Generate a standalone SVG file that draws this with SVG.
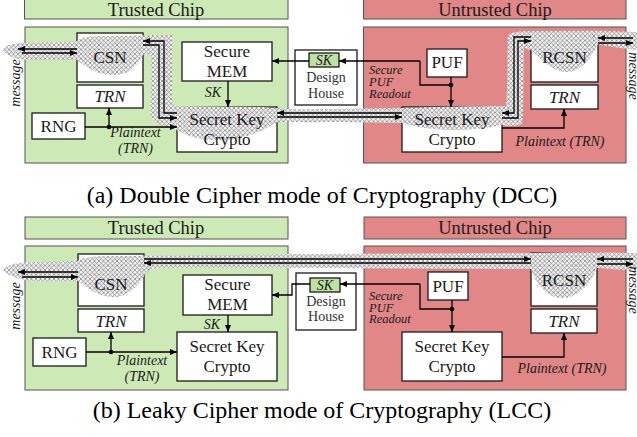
<svg xmlns="http://www.w3.org/2000/svg" width="637" height="437" viewBox="0 0 637 437">
<style>
text{font-family:"Liberation Serif","Times New Roman",serif;fill:#1a1a1a}
.lbl{font-size:17px;text-anchor:middle}
.hdr{font-size:18.5px;text-anchor:middle}
.it{font-size:12.5px;font-style:italic}
.itm{font-size:14px;font-style:italic;text-anchor:middle}
.cap{font-size:24px;text-anchor:middle;fill:#000}
.box{fill:#fff;stroke:#1a1a1a;stroke-width:1.3}
.green{fill:#cde9b6;stroke:#555;stroke-width:1}
.red{fill:#e18787;stroke:#555;stroke-width:1}
.skbox{fill:#bfe0a3;stroke:#1a1a1a;stroke-width:1.3}
.hatch{fill:url(#hatch);stroke:none}
.ln{fill:none;stroke:#000;stroke-width:1.3}
.arr{fill:none;stroke:#000;stroke-width:1.3;marker-end:url(#ah)}
.dh{font-size:14px;text-anchor:middle;fill:#333}
</style>
<defs>
<pattern id="hatch" width="4.5" height="4.5" patternUnits="userSpaceOnUse">
<rect width="4.5" height="4.5" fill="#f2f2f2"/>
<path d="M0,0 L4.5,4.5 M4.5,0 L0,4.5" stroke="#6a6a6a" stroke-width="0.6"/>
</pattern>
<marker id="ah" markerWidth="7" markerHeight="6" refX="7" refY="3" orient="auto" markerUnits="userSpaceOnUse">
<path d="M0,0 L7,3 L0,6 Z" fill="#000"/>
</marker>
</defs>
<rect width="637" height="437" fill="#fff"/>

<!-- ===== (a) DCC ===== -->
<g id="a-trusted-chip">
<rect class="green" x="24.5" y="-5" width="263.5" height="24"/>
<text class="hdr" x="156" y="16">Trusted Chip</text>
<rect class="green" x="25" y="27" width="263" height="136"/>
</g>
<g id="a-untrusted-chip">
<rect class="red" x="363.5" y="-5" width="262.5" height="24"/>
<text class="hdr" x="495" y="16">Untrusted Chip</text>
<rect class="red" x="363.5" y="27" width="262.5" height="136"/>
</g>

<g id="a-nodes-boxes">
<rect class="box" x="77" y="33" width="66" height="49"/>
<rect class="box" x="177" y="107" width="100" height="45"/>
<rect class="box" x="402" y="107" width="100" height="45"/>
<rect class="box" x="531" y="32" width="67" height="50"/>
</g>

<path class="hatch" d="M3,50 C6,45 12,43 25,43 L77,41 C80,37 90,36 110,36 L172,35 C173,50 172,80 172,100 C173,104 176,106 180,106 L260,107 C275,108 290,110 320,109 L402,108 C430,107 480,106 506,106 C508,90 507,50 508,35 C512,32 520,31 531,31 C560,31 600,30 637,32 L637,50 C620,48 605,46 598,44 C590,60 580,72 567,72 C552,72 540,58 531,50 L524,48 C523,80 524,110 522,124 C515,127 505,126 502,125 C490,128 470,130 450,130 C430,130 412,126 402,123 L330,122 C310,123 290,122 277,122 C265,130 250,138 220,140 C200,141 185,135 177,130 C160,126 150,122 150,112 C151,90 152,70 151,55 C148,54 145,54 143,55 C135,70 125,76 110,75 C95,74 85,66 77,60 L30,60 C15,60 6,56 3,50 Z"/>

<g id="a-csn"><text class="lbl" x="110" y="63">CSN</text></g>
<g id="a-trn"><rect class="box" x="77" y="85" width="66" height="23"/><text class="lbl" x="110" y="102" font-style="italic">TRN</text></g>
<g id="a-rng"><rect class="box" x="32" y="113" width="53" height="26"/><text class="lbl" x="58.5" y="132">RNG</text></g>
<g id="a-secure-mem"><rect class="box" x="182" y="42" width="90" height="39"/><text class="lbl" x="227" y="57">Secure</text><text class="lbl" x="227" y="77">MEM</text></g>
<g id="a-skc-trusted"><text class="lbl" x="227" y="125">Secret Key</text><text class="lbl" x="227" y="145">Crypto</text></g>
<g id="a-design-house"><rect class="box" x="295" y="50" width="62" height="55"/><rect class="skbox" x="309" y="53" width="30" height="14"/><text class="itm" x="324" y="65">SK</text><text class="dh" x="326" y="82">Design</text><text class="dh" x="326" y="98">House</text></g>
<g id="a-puf"><rect class="box" x="427" y="49" width="40" height="28"/><text class="lbl" x="447" y="68">PUF</text></g>
<g id="a-skc-untrusted"><text class="lbl" x="452" y="125">Secret Key</text><text class="lbl" x="452" y="145">Crypto</text></g>
<g id="a-rcsn"><text class="lbl" x="564.5" y="63">RCSN</text></g>
<g id="a-trn-u"><rect class="box" x="531" y="85" width="67" height="24"/><text class="lbl" x="564.5" y="103" font-style="italic">TRN</text></g>

<g id="a-connectors">
<path class="arr" d="M77,49 H18"/>
<path class="arr" d="M22,53 H77"/>
<path class="arr" d="M177,113 H164 V41 H143"/>
<path class="arr" d="M143,45 H159 V118 H177"/>
<path class="arr" d="M402,113 H277"/>
<path class="arr" d="M277,117 H402"/>
<path class="arr" d="M531,37 H514 V113 H502"/>
<path class="arr" d="M502,118 H518 V41 H531"/>
<path class="arr" d="M633,38 H598"/>
<path class="arr" d="M598,43 H633"/>
<path class="arr" d="M85,127 H177"/>
<path class="arr" d="M109,127 V108"/>
<circle cx="109" cy="127" r="2.3"/>
<path class="arr" d="M228,81 V107"/>
<path class="arr" d="M309,61 H272"/>
<path class="arr" d="M420,61 H339"/>
<path class="ln" d="M420,61 V85 H451"/>
<circle cx="451" cy="85" r="2.3"/>
<path class="arr" d="M451,77 V107"/>
<path class="arr" d="M502,128 H564 V109"/>
</g>
<g id="a-labels">
<text class="itm" x="135.5" y="137">Plaintext</text>
<text class="itm" x="135.5" y="153">(TRN)</text>
<text class="itm" x="213" y="97">SK</text>
<text class="it" x="369" y="74">Secure</text>
<text class="it" x="369" y="86">PUF</text>
<text class="it" x="369" y="98">Readout</text>
<text class="itm" x="560" y="146">Plaintext (TRN)</text>
<text class="itm" transform="translate(20,83) rotate(-90)">message</text>
<text class="itm" transform="translate(629,76) rotate(90)">message</text>
</g>
<text class="cap" x="322" y="203">(a) Double Cipher mode of Cryptography (DCC)</text>

<!-- ===== (b) LCC ===== -->
<g id="b-trusted-chip">
<rect class="green" x="25" y="217" width="263" height="22"/>
<text class="hdr" x="156" y="234">Trusted Chip</text>
<rect class="green" x="25" y="246" width="263" height="144"/>
</g>
<g id="b-untrusted-chip">
<rect class="red" x="364" y="217" width="262" height="22"/>
<text class="hdr" x="495" y="234">Untrusted Chip</text>
<rect class="red" x="364" y="246" width="262" height="144"/>
</g>

<g id="b-nodes-boxes">
<rect class="box" x="78" y="254" width="66" height="52"/>
<rect class="box" x="531" y="253" width="66" height="53"/>
</g>

<path class="hatch" d="M3,270 C8,264 18,262 35,262 L78,261 C82,257 95,256 120,256 L300,254 L531,253 C560,252 600,252 637,253 L637,270 C620,271 605,268 597,268 C590,285 578,298 562,298 C546,298 536,283 531,269 L300,268 L160,268 C150,268 146,272 144,276 C136,290 124,298 112,297 C97,296 86,287 78,281 L40,281 C22,281 9,277 3,270 Z"/>

<g id="b-csn"><text class="lbl" x="111" y="290">CSN</text></g>
<g id="b-trn"><rect class="box" x="78" y="309" width="66" height="23"/><text class="lbl" x="111" y="327" font-style="italic">TRN</text></g>
<g id="b-rng"><rect class="box" x="33" y="338" width="53" height="28"/><text class="lbl" x="59.5" y="358">RNG</text></g>
<g id="b-secure-mem"><rect class="box" x="183" y="275" width="89" height="40"/><text class="lbl" x="227.5" y="290">Secure</text><text class="lbl" x="227.5" y="310">MEM</text></g>
<g id="b-skc-trusted"><rect class="box" x="177" y="332" width="100" height="49"/><text class="lbl" x="227" y="352">Secret Key</text><text class="lbl" x="227" y="372">Crypto</text></g>
<g id="b-design-house"><rect class="box" x="296" y="273" width="60" height="57"/><rect class="skbox" x="310" y="278" width="30" height="14"/><text class="itm" x="325" y="290">SK</text><text class="dh" x="326" y="306">Design</text><text class="dh" x="326" y="321">House</text></g>
<g id="b-puf"><rect class="box" x="428" y="272" width="40" height="28"/><text class="lbl" x="448" y="292">PUF</text></g>
<g id="b-skc-untrusted"><rect class="box" x="402" y="332" width="100" height="49"/><text class="lbl" x="452" y="352">Secret Key</text><text class="lbl" x="452" y="372">Crypto</text></g>
<g id="b-rcsn"><text class="lbl" x="564" y="286">RCSN</text></g>
<g id="b-trn-u"><rect class="box" x="531" y="309" width="66" height="24"/><text class="lbl" x="564" y="327" font-style="italic">TRN</text></g>

<g id="b-connectors">
<path class="arr" d="M78,272 H18"/>
<path class="arr" d="M22,277 H78"/>
<path class="arr" d="M144,259 H531"/>
<path class="arr" d="M531,263 H144"/>
<path class="arr" d="M633,259 H597"/>
<path class="arr" d="M597,264 H633"/>
<path class="arr" d="M86,352 H177"/>
<path class="arr" d="M111,352 V332"/>
<circle cx="111" cy="352" r="2.3"/>
<path class="arr" d="M228,315 V332"/>
<path class="arr" d="M310,284 H292 V295 H272"/>
<path class="arr" d="M420,284 H340"/>
<path class="ln" d="M420,284 V309 H452"/>
<circle cx="452" cy="309" r="2.3"/>
<path class="arr" d="M452,300 V332"/>
<path class="arr" d="M502,357 H564 V333"/>
</g>
<g id="b-labels">
<text class="itm" x="142" y="365">Plaintext</text>
<text class="itm" x="142" y="381">(TRN)</text>
<text class="itm" x="212" y="329">SK</text>
<text class="it" x="369" y="300">Secure</text>
<text class="it" x="369" y="312">PUF</text>
<text class="it" x="369" y="323">Readout</text>
<text class="itm" x="562" y="373">Plaintext (TRN)</text>
<text class="itm" transform="translate(20,306) rotate(-90)">message</text>
<text class="itm" transform="translate(629,290) rotate(90)">message</text>
</g>
<text class="cap" x="322" y="418">(b) Leaky Cipher mode of Cryptography (LCC)</text>
</svg>
